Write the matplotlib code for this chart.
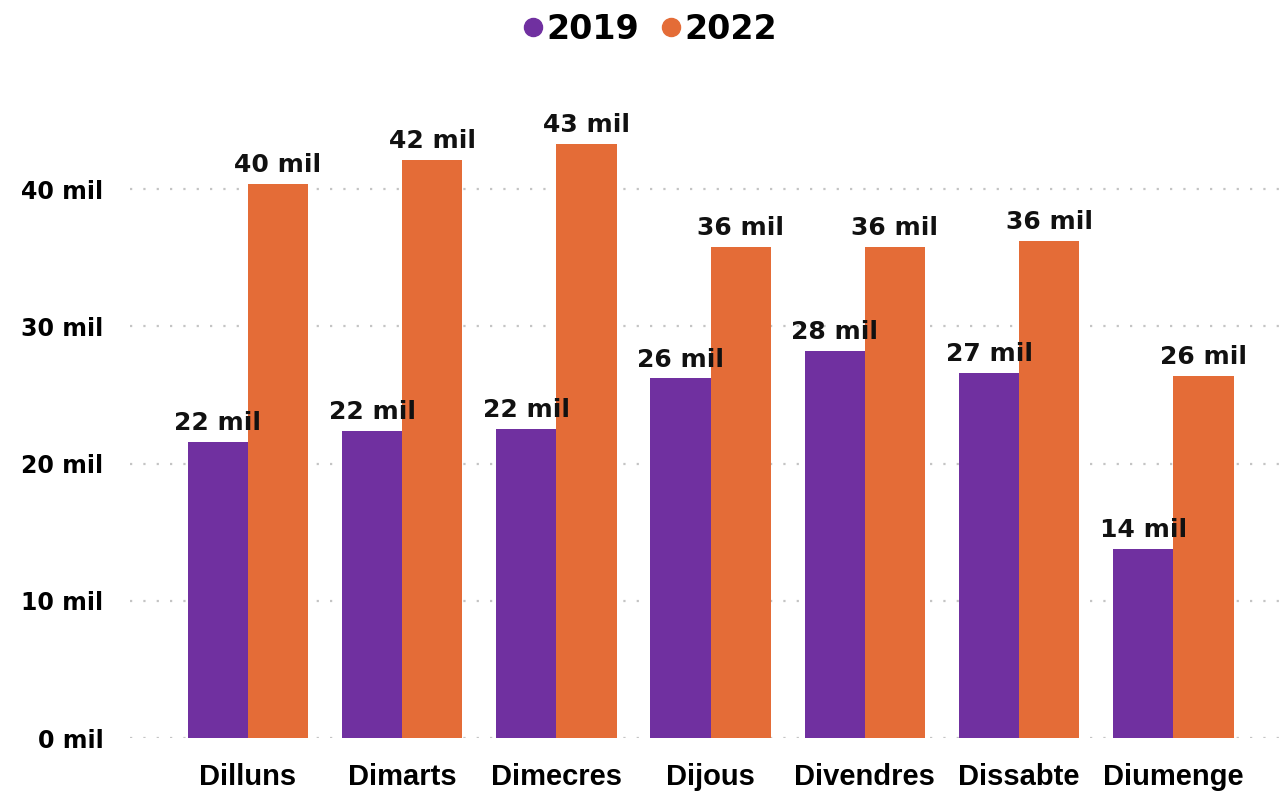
import numpy as np
import matplotlib
matplotlib.use("Agg")
import matplotlib.pyplot as plt
from matplotlib.lines import Line2D

# data (thousands)
days = ["Dilluns", "Dimarts", "Dimecres", "Dijous", "Divendres", "Dissabte", "Diumenge"]
vals_2019 = [21.6, 22.4, 22.5, 26.2, 28.2, 26.6, 13.8]
vals_2022 = [40.4, 42.1, 43.3, 35.8, 35.8, 36.2, 26.4]
series_names = ["2019", "2022"]
yticks = [0, 10, 20, 30, 40]

purple = "#7030A0"
orange = "#E46C37"

fig = plt.figure(figsize=(12.86, 7.92), dpi=100)
ax = fig.add_axes([0.101, 0.068, 0.899, 0.806])

x = np.arange(len(days))
w = 0.39
b1 = ax.bar(x - w / 2, vals_2019, w, color=purple, zorder=2)
b2 = ax.bar(x + w / 2, vals_2022, w, color=orange, zorder=2)

# data labels
for bars, vals in ((b1, vals_2019), (b2, vals_2022)):
    for r, v in zip(bars, vals):
        ax.annotate(f"{round(v):.0f} mil", (r.get_x() + r.get_width() / 2, v),
                    xytext=(0, 5), textcoords="offset points",
                    ha="center", va="bottom", fontsize=18, fontweight="bold",
                    family="DejaVu Sans", color="#111111", zorder=3)

ax.set_xlim(-0.765, 6.73)
ax.set_ylim(0, 46.5)
ax.set_yticks(yticks)
ax.set_yticklabels([f"{t} mil" for t in yticks], fontsize=17, fontweight="bold",
                   family="DejaVu Sans")
ax.set_xticks(x)
ax.set_xticklabels(days, fontsize=21, fontweight="bold", family="Liberation Sans")
ax.tick_params(axis="y", length=0, pad=19)
ax.tick_params(axis="x", length=0, pad=18)

for t in yticks:
    ax.axhline(t, color="#c4c4c4", linewidth=1.6, linestyle=(0, (1, 5)), zorder=1)

for s in ax.spines.values():
    s.set_visible(False)

handles = [Line2D([], [], marker="o", linestyle="none", markersize=13, color=c)
           for c in (purple, orange)]
fig.legend(handles, series_names, loc="upper center", bbox_to_anchor=(0.505, 1.022),
           ncol=2, frameon=False, handlelength=0.7, handletextpad=0.05,
           columnspacing=0.6, prop={"family": "DejaVu Sans", "weight": "bold", "size": 24})

fig.savefig("out.png", dpi=100)
